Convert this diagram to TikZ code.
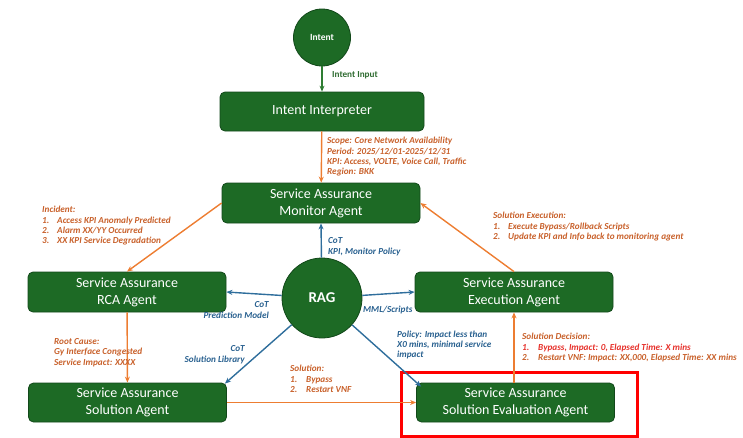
\documentclass[tikz,border=0pt]{standalone}
\usepackage{fontspec}
\setmainfont{Carlito}
\usetikzlibrary{arrows.meta,calc}
\definecolor{boxgreen}{HTML}{1D6A25}
\definecolor{boxedge}{HTML}{12481A}
\definecolor{arrgreen}{HTML}{2E7D32}
\definecolor{txtgreen}{HTML}{2E6B30}
\definecolor{arrorange}{HTML}{ED7D31}
\definecolor{txtorange}{HTML}{C8602A}
\definecolor{arrblue}{HTML}{2F6E9C}
\definecolor{txtblue}{HTML}{28608F}
\definecolor{txtred}{HTML}{E6302A}
\begin{document}
\begin{tikzpicture}[x=1pt,y=-1pt,
  agent/.style={draw=boxedge,line width=0.8pt,fill=boxgreen,rounded corners=5pt,text=white,
    minimum width=198pt,minimum height=40pt,align=center,inner sep=0pt,
    font=\fontsize{14}{17}\selectfont},
  bubble/.style={circle,draw=boxedge,line width=0.8pt,fill=boxgreen,text=white,inner sep=0pt},
  oarr/.style={draw=arrorange,line width=1.4pt,-{Stealth[length=6pt,width=5pt]}},
  barr/.style={draw=arrblue,line width=1.4pt,-{Stealth[length=6pt,width=5pt]}},
  garr/.style={draw=arrgreen,line width=1.4pt,-{Stealth[length=6pt,width=5pt]}},
  lbl/.style={inner sep=0pt,align=left,font=\fontsize{9.2}{10.4}\selectfont\bfseries\itshape},
  olbl/.style={lbl,text=txtorange},
  blbl/.style={lbl,text=txtblue},
]
\useasboundingbox (0,0) rectangle (743,437);

% nodes
\node[bubble,minimum size=57pt,font=\fontsize{9.5}{11}\selectfont\bfseries] (intent) at (322,37.5) {Intent};
\node[agent,minimum width=204pt,minimum height=39pt] (interp) at (322,111.5) {Intent Interpreter};
\node[agent] (monitor) at (321,203) {Service Assurance\\Monitor Agent};
\node[agent] (rca) at (127,292) {Service Assurance\\RCA Agent};
\node[agent] (exec) at (514,292) {Service Assurance\\Execution Agent};
\node[agent,minimum height=39pt] (sol) at (127.5,402.5) {Service Assurance\\Solution Agent};
\node[agent,minimum height=39pt] (eval) at (515.5,402.5) {Service Assurance\\Solution Evaluation Agent};
\node[bubble,minimum size=80pt,font=\fontsize{15}{18}\selectfont\bfseries] (rag) at (322,298) {RAG};

% highlight frame
\node[draw=red,line width=3pt,minimum width=236pt,minimum height=64pt,inner sep=0pt] (frame) at (519.5,404) {};

% connectors
\draw[garr] (intent) -- (interp);
\draw[oarr] (interp) -- (monitor);
\draw[oarr] (monitor.west) -- (rca.north);
\draw[oarr] (exec.north) -- (monitor.east);
\draw[oarr] (rca) -- (sol);
\draw[oarr] (sol) -- (eval);
\draw[oarr] (eval.north -| exec) -- (exec.south);
\draw[barr] (rag) -- (monitor.south);
\draw[barr] (rag) -- (rca.east);
\draw[barr] (rag) -- (exec.west);
\coordinate (solin) at ($(sol.north east)+(-2,1)$);
\coordinate (evalin) at ($(eval.north west)+(5,4)$);
\draw[barr] (rag) -- (solin);
\draw[barr] (rag) -- (evalin);

% labels
\node[inner sep=0pt,font=\fontsize{9.2}{10.4}\selectfont\bfseries,text=txtgreen,anchor=north west] (lin) at (332,71.5) {Intent Input};
\node[olbl,anchor=north west] (lscope) at (327,137) {Scope: Core Network Availability\\Period: 2025/12/01-2025/12/31\\KPI: Access, VOLTE, Voice Call, Traffic\\Region: BKK};
\node[olbl,anchor=north west] (linc) at (42,206) {Incident:\\\makebox[15pt][l]{1.}Access KPI Anomaly Predicted\\\makebox[15pt][l]{2.}Alarm XX/YY Occurred\\\makebox[15pt][l]{3.}XX KPI Service Degradation};
\node[olbl,anchor=north west] (lexe) at (493,212) {Solution Execution:\\\makebox[15pt][l]{1.}Execute Bypass/Rollback Scripts\\\makebox[15pt][l]{2.}Update KPI and Info back to monitoring agent};
\node[olbl,anchor=north west] (lroot) at (54,338) {Root Cause:\\Gy Interface Congested\\Service Impact: XXXX};
\node[olbl,anchor=north west] (lsol) at (290,365) {Solution:\\\makebox[16pt][l]{1.}Bypass\\\makebox[16pt][l]{2.}Restart VNF};
\node[olbl,anchor=north west] (ldec) at (522,333) {Solution Decision:\\\textcolor{txtred}{\makebox[16pt][l]{1.}Bypass, Impact: 0, Elapsed Time: X mins}\\\makebox[16pt][l]{2.}Restart VNF: Impact: XX,000, Elapsed Time: XX mins};
\node[blbl,anchor=north west] (lkpi) at (328,237.5) {CoT\\KPI, Monitor Policy};
\node[blbl,anchor=north east,align=right] (lpred) at (269,301.5) {CoT\\Prediction Model};
\node[blbl,anchor=north west] (lmml) at (363,305.5) {MML/Scripts};
\node[blbl,anchor=north east,align=right] (llib) at (245,345.5) {CoT\\Solution Library};
\node[blbl,anchor=north west] (lpol) at (397,330.5) {Policy: Impact less than\\X0 mins, minimal service\\impact};
\end{tikzpicture}
\end{document}
